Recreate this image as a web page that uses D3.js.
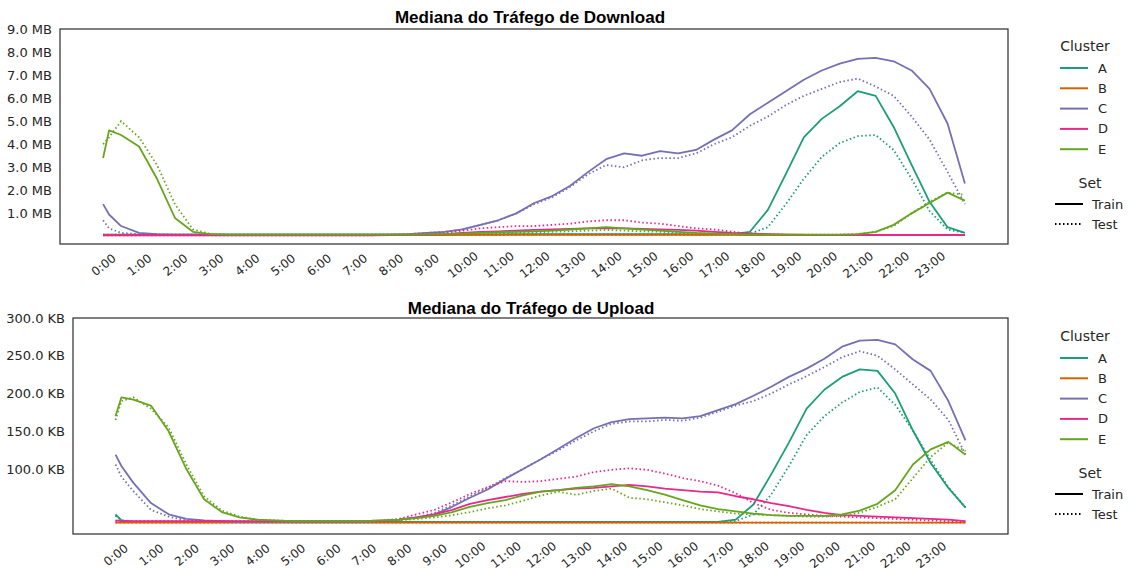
<!DOCTYPE html>
<html>
<head>
<meta charset="utf-8">
<script src="https://d3js.org/d3.v7.min.js"></script>
<style>
  html, body { margin: 0; padding: 0; background: #fff; }
  svg { display: block; }
</style>
</head>
<body>
<svg id="chart" width="1129" height="571"></svg>
<script>
// Minutes of the day for each sample (00:00 ... 23:59)
const minutos = [0,10,30,60,90,120,150,180,210,240,
  270,300,330,360,390,420,450,480,510,540,
  570,600,630,660,690,720,750,780,810,840,
  870,900,930,960,990,1020,1050,1080,1110,1140,
  1170,1200,1230,1260,1290,1320,1350,1380,1410,1439];

const clusters = ["A", "B", "C", "D", "E"];
const cores = ["#1b9e77", "#d95f02", "#7570b3", "#e7298a", "#66a61e"];
const conjuntos = ["Train", "Test"];

const horasTicks = d3.range(0, 24).map(h => h * 60);
const horasLabels = d3.range(0, 24).map(h => h + ":00");

// Download median (MB)
const dlA_treino = [0.08,0.08,0.08,0.08,0.08,0.08,0.08,0.08,0.08,0.08,
  0.08,0.08,0.08,0.08,0.08,0.08,0.08,0.08,0.08,0.08,
  0.08,0.08,0.09,0.09,0.1,0.1,0.1,0.1,0.1,0.1,
  0.1,0.1,0.1,0.1,0.09,0.09,0.1,0.2,1.15,2.7,
  4.3,5.1,5.65,6.3,6.1,4.75,3.1,1.5,0.4,0.15];
const dlA_teste = [0.08,0.08,0.08,0.08,0.08,0.08,0.08,0.08,0.08,0.08,
  0.08,0.08,0.08,0.08,0.08,0.08,0.08,0.08,0.08,0.08,
  0.08,0.08,0.09,0.09,0.1,0.1,0.1,0.1,0.1,0.1,
  0.1,0.1,0.1,0.1,0.09,0.09,0.09,0.12,0.4,1.4,
  2.5,3.45,4.05,4.35,4.4,3.75,2.5,1.1,0.3,0.15];
const dlB_treino = [0.06,0.06,0.06,0.06,0.06,0.06,0.06,0.06,0.06,0.06,
  0.06,0.06,0.06,0.06,0.06,0.06,0.06,0.06,0.06,0.06,
  0.06,0.07,0.07,0.07,0.07,0.07,0.07,0.07,0.07,0.07,
  0.07,0.07,0.07,0.07,0.07,0.07,0.07,0.06,0.06,0.06,
  0.06,0.06,0.06,0.06,0.06,0.06,0.06,0.06,0.06,0.06];
const dlB_teste = [0.06,0.06,0.06,0.06,0.06,0.06,0.06,0.06,0.06,0.06,
  0.06,0.06,0.06,0.06,0.06,0.06,0.06,0.06,0.06,0.06,
  0.06,0.07,0.07,0.07,0.07,0.07,0.07,0.07,0.07,0.07,
  0.07,0.07,0.07,0.07,0.07,0.07,0.07,0.06,0.06,0.06,
  0.06,0.06,0.06,0.06,0.06,0.06,0.06,0.06,0.06,0.06];
const dlC_treino = [1.4,0.95,0.45,0.15,0.1,0.08,0.08,0.08,0.08,0.08,
  0.08,0.08,0.08,0.08,0.08,0.08,0.08,0.08,0.1,0.15,
  0.2,0.3,0.5,0.7,1.0,1.45,1.75,2.2,2.8,3.35,
  3.6,3.5,3.7,3.6,3.75,4.2,4.6,5.3,5.8,6.3,
  6.8,7.2,7.5,7.7,7.75,7.6,7.2,6.4,4.9,2.3];
const dlC_teste = [0.7,0.35,0.15,0.1,0.08,0.08,0.08,0.08,0.08,0.08,
  0.08,0.08,0.08,0.08,0.08,0.08,0.08,0.08,0.1,0.15,
  0.2,0.3,0.5,0.7,1.0,1.4,1.7,2.15,2.7,3.1,
  3.0,3.3,3.4,3.4,3.6,4.0,4.3,4.8,5.2,5.7,
  6.1,6.4,6.7,6.85,6.5,6.1,5.2,4.2,2.8,1.4];
const dlD_treino = [0.05,0.05,0.05,0.05,0.05,0.05,0.05,0.05,0.05,0.05,
  0.05,0.05,0.05,0.05,0.05,0.05,0.05,0.06,0.07,0.08,
  0.1,0.15,0.2,0.22,0.25,0.28,0.3,0.32,0.35,0.35,
  0.35,0.33,0.3,0.28,0.25,0.2,0.15,0.12,0.1,0.08,
  0.07,0.06,0.06,0.06,0.06,0.06,0.06,0.06,0.06,0.06];
const dlD_teste = [0.05,0.05,0.05,0.05,0.05,0.05,0.05,0.05,0.05,0.05,
  0.05,0.05,0.05,0.05,0.05,0.05,0.05,0.06,0.08,0.1,
  0.15,0.25,0.35,0.4,0.45,0.45,0.5,0.55,0.65,0.7,
  0.7,0.6,0.55,0.45,0.35,0.3,0.2,0.12,0.1,0.08,
  0.07,0.06,0.06,0.06,0.06,0.06,0.06,0.06,0.06,0.06];
const dlE_treino = [3.4,4.6,4.4,3.9,2.5,0.8,0.2,0.1,0.08,0.08,
  0.08,0.08,0.08,0.08,0.08,0.08,0.08,0.08,0.08,0.09,
  0.1,0.12,0.15,0.18,0.2,0.22,0.25,0.3,0.35,0.4,
  0.35,0.3,0.25,0.2,0.15,0.12,0.1,0.08,0.08,0.08,
  0.08,0.08,0.08,0.1,0.2,0.5,1.0,1.45,1.9,1.55];
const dlE_teste = [4.0,4.3,5.0,4.3,3.1,1.4,0.3,0.1,0.08,0.08,
  0.08,0.08,0.08,0.08,0.08,0.08,0.08,0.08,0.08,0.09,
  0.1,0.12,0.13,0.15,0.17,0.18,0.2,0.22,0.25,0.28,
  0.25,0.22,0.2,0.17,0.14,0.12,0.1,0.08,0.08,0.08,
  0.08,0.08,0.08,0.1,0.2,0.45,1.0,1.5,1.9,1.8];

// Upload median (KB)
const ulA_treino = [40,32,30,30,30,30,30,30,30,30,
  30,30,30,30,30,30,30,30,30,30,
  30,30,30,30,30,30,30,30,30,30,
  30,30,30,30,30,30,33,53,93,135,
  180,205,222,232,230,200,151,108,75,49];
const ulA_teste = [38,32,30,30,30,30,30,30,30,30,
  30,30,30,30,30,30,30,30,30,30,
  30,30,30,30,30,30,30,30,30,30,
  30,30,30,30,30,30,31,40,66,104,
  145,170,188,202,208,185,151,112,76,49];
const ulB_treino = [29,29,29,29,29,29,29,29,29,29,
  29,29,29,29,29,29,29,29,29,29,
  29,29,29,29,29,29,29,29,29,29,
  29,29,29,29,29,29,29,29,29,29,
  29,29,29,29,29,29,29,29,29,29];
const ulB_teste = [29,29,29,29,29,29,29,29,29,29,
  29,29,29,29,29,29,29,29,29,29,
  29,29,29,29,29,29,29,29,29,29,
  29,29,29,29,29,29,29,29,29,29,
  29,29,29,29,29,29,29,29,29,29];
const ulC_treino = [119,104,82,55,40,34,32,31,30,30,
  30,30,30,30,30,30,31,33,36,40,
  50,62,73,87,100,113,127,141,154,162,
  166,167,168,167,170,178,186,197,209,222,
  233,246,262,270,271,265,245,230,190,138];
const ulC_teste = [106,90,71,46,37,32,31,30,30,30,
  30,30,30,30,30,30,31,33,36,42,
  52,64,75,88,100,113,125,138,150,160,
  163,163,165,164,168,176,184,190,200,212,
  223,235,248,256,250,232,212,192,165,119];
const ulD_treino = [32,31,31,31,31,31,31,31,31,31,
  31,31,31,31,31,31,31,33,36,40,
  46,54,59,63,67,70,72,74,75,77,
  79,77,74,72,70,69,64,60,55,51,
  46,42,39,38,37,36,35,34,33,31];
const ulD_teste = [31,31,31,31,31,31,31,31,31,31,
  31,31,31,31,31,31,32,34,40,46,
  56,67,76,84,83,84,87,90,96,99,
  101,99,94,88,84,78,68,55,46,42,
  40,38,37,36,35,34,33,32,31,30];
const ulE_treino = [170,195,192,184,150,100,60,43,36,33,
  32,31,31,31,31,31,32,33,35,38,
  43,50,55,59,65,70,72,75,77,80,
  77,72,66,59,52,47,44,41,39,38,
  38,38,40,45,54,72,106,126,136,119];
const ulE_teste = [165,190,195,180,155,106,64,45,37,33,
  32,31,31,31,31,31,32,32,34,36,
  39,43,48,52,58,65,70,66,71,74,
  62,60,56,52,47,44,41,40,39,38,
  37,37,38,42,50,60,88,116,135,124];

// Y ticks
const dlTicks = [1, 2, 3, 4, 5, 6, 7, 8, 9];
const dlTickLabels = ["1.0 MB","2.0 MB","3.0 MB","4.0 MB","5.0 MB","6.0 MB","7.0 MB","8.0 MB","9.0 MB"];
const ulTicks = [100, 150, 200, 250, 300];
const ulTickLabels = ["100.0 KB","150.0 KB","200.0 KB","250.0 KB","300.0 KB"];

const paineis = [
  {
    titulo: "Mediana do Tráfego de Download",
    left: 60, right: 1008, top: 29, bottom: 244, titleX: 530, titleY: 23,
    yDomain: [-0.33, 9.0], ticks: dlTicks, tickLabels: dlTickLabels,
    series: {
      A: [dlA_treino, dlA_teste], B: [dlB_treino, dlB_teste], C: [dlC_treino, dlC_teste],
      D: [dlD_treino, dlD_teste], E: [dlE_treino, dlE_teste]
    },
    legendTop: 46
  },
  {
    titulo: "Mediana do Tráfego de Upload",
    left: 73, right: 1008, top: 318, bottom: 534, titleX: 531, titleY: 314,
    yDomain: [14, 300], ticks: ulTicks, tickLabels: ulTickLabels,
    series: {
      A: [ulA_treino, ulA_teste], B: [ulB_treino, ulB_teste], C: [ulC_treino, ulC_teste],
      D: [ulD_treino, ulD_teste], E: [ulE_treino, ulE_teste]
    },
    legendTop: 336
  }
];

const svg = d3.select("#chart");
const fonte = "'DejaVu Sans', sans-serif";
const corTexto = "#262626";
const margem = 0.05 * (minutos[minutos.length - 1] - minutos[0]);

paineis.forEach(p => {
  const x = d3.scaleLinear()
    .domain([minutos[0] - margem, minutos[minutos.length - 1] + margem])
    .range([p.left, p.right]);
  const y = d3.scaleLinear().domain(p.yDomain).range([p.bottom, p.top]);

  const g = svg.append("g");

  // Series lines: train solid, test dotted
  const clip = "clip-" + p.top;
  svg.append("clipPath").attr("id", clip)
    .append("rect").attr("x", p.left).attr("y", p.top)
    .attr("width", p.right - p.left).attr("height", p.bottom - p.top);

  const linha = d3.line().x((d, i) => x(minutos[i])).y(d => y(d));
  const plot = g.append("g").attr("clip-path", `url(#${clip})`);
  clusters.forEach((c, ci) => {
    const [treino, teste] = p.series[c];
    plot.append("path").datum(treino)
      .attr("d", linha).attr("fill", "none")
      .attr("stroke", cores[ci]).attr("stroke-width", 1.8)
      .attr("stroke-linejoin", "round");
    plot.append("path").datum(teste)
      .attr("d", linha).attr("fill", "none")
      .attr("stroke", cores[ci]).attr("stroke-width", 1.8)
      .attr("stroke-dasharray", "1.5,2.5");
  });

  // Frame
  g.append("rect")
    .attr("x", p.left).attr("y", p.top)
    .attr("width", p.right - p.left).attr("height", p.bottom - p.top)
    .attr("fill", "none").attr("stroke", "#333").attr("stroke-width", 1.25);

  // Y axis labels
  const yAxis = d3.axisLeft(y).tickValues(p.ticks)
    .tickFormat((d, i) => p.tickLabels[i]).tickSize(0).tickPadding(8);
  const ya = g.append("g").attr("transform", `translate(${p.left},0)`).call(yAxis);
  ya.select(".domain").remove();
  ya.selectAll("text").attr("font-family", fonte).attr("font-size", 13).attr("fill", corTexto);

  // X axis labels, rotated
  const xAxis = d3.axisBottom(x).tickValues(horasTicks)
    .tickFormat((d, i) => horasLabels[i]).tickSize(0).tickPadding(0);
  const xa = g.append("g").attr("transform", `translate(0,${p.bottom})`).call(xAxis);
  xa.select(".domain").remove();
  xa.selectAll("text")
    .attr("font-family", fonte).attr("font-size", 12).attr("fill", corTexto)
    .attr("y", 0).attr("dy", null)
    .attr("text-anchor", "middle").attr("dominant-baseline", "central")
    .attr("transform", "translate(0,21) rotate(-38)");

  // Title
  g.append("text").attr("x", p.titleX).attr("y", p.titleY)
    .attr("text-anchor", "middle")
    .attr("font-family", "'Liberation Sans', Arial, sans-serif")
    .attr("font-weight", "bold").attr("font-size", 17).attr("fill", "#000")
    .text(p.titulo);

  // Legend
  const lg = g.append("g");
  const t0 = p.legendTop;
  lg.append("text").attr("x", 1085).attr("y", t0).attr("text-anchor", "middle")
    .attr("dominant-baseline", "central")
    .attr("font-family", fonte).attr("font-size", 14).attr("fill", corTexto).text("Cluster");
  clusters.forEach((c, ci) => {
    const yy = t0 + 22 + ci * 20.3;
    lg.append("line").attr("x1", 1060).attr("x2", 1088).attr("y1", yy).attr("y2", yy)
      .attr("stroke", cores[ci]).attr("stroke-width", 2);
    lg.append("text").attr("x", 1098).attr("y", yy).attr("dominant-baseline", "central")
      .attr("font-family", fonte).attr("font-size", 13).attr("fill", corTexto).text(c);
  });
  const s0 = t0 + 137;
  lg.append("text").attr("x", 1090).attr("y", s0).attr("text-anchor", "middle")
    .attr("dominant-baseline", "central")
    .attr("font-family", fonte).attr("font-size", 14).attr("fill", corTexto).text("Set");
  conjuntos.forEach((s, si) => {
    const yy = s0 + 21 + si * 20;
    lg.append("line").attr("x1", 1055).attr("x2", 1083).attr("y1", yy).attr("y2", yy)
      .attr("stroke", "#000").attr("stroke-width", 2)
      .attr("stroke-dasharray", si === 1 ? "1.5,2.5" : null);
    lg.append("text").attr("x", 1092).attr("y", yy).attr("dominant-baseline", "central")
      .attr("font-family", fonte).attr("font-size", 13).attr("fill", corTexto).text(s);
  });
});
</script>
</body>
</html>
